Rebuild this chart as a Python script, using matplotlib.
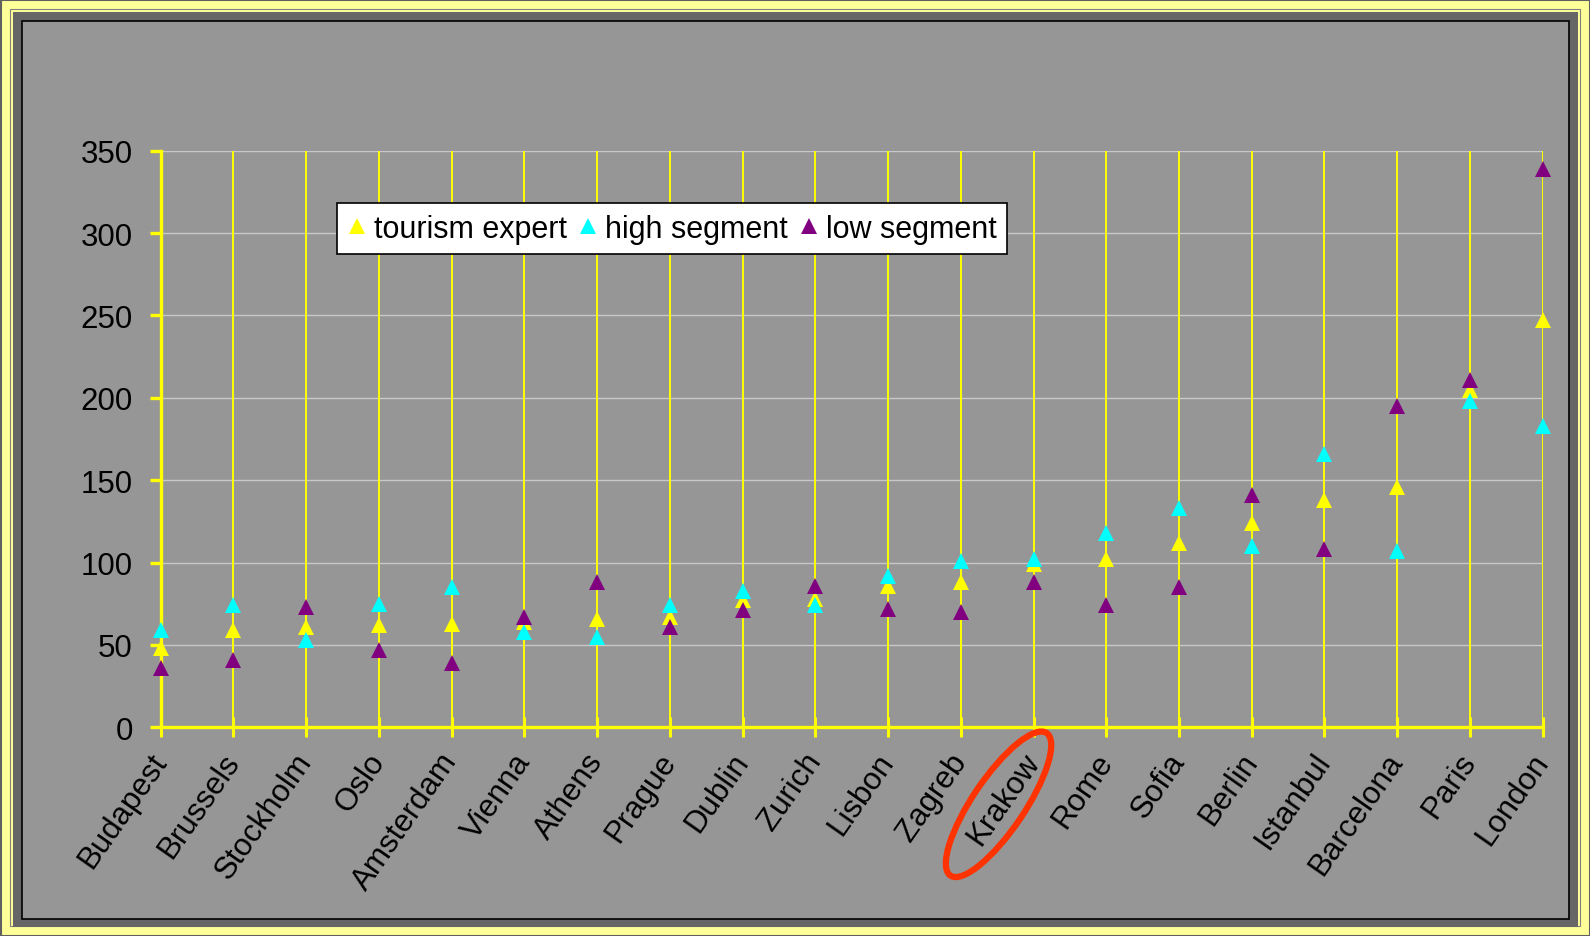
import numpy as np
import matplotlib
matplotlib.use("Agg")
import matplotlib.pyplot as plt
from matplotlib.patches import Rectangle, Ellipse
from matplotlib.transforms import IdentityTransform

plt.rcParams['font.family'] = ['Liberation Sans', 'DejaVu Sans']

# data
cities = ['Budapest', 'Brussels', 'Stockholm', 'Oslo', 'Amsterdam', 'Vienna',
          'Athens', 'Prague', 'Dublin', 'Zurich', 'Lisbon', 'Zagreb', 'Krakow',
          'Rome', 'Sofia', 'Berlin', 'Istanbul', 'Barcelona', 'Paris', 'London']
tourism_expert = [48, 59, 61, 62, 63, 64, 66, 67, 77, 78, 86, 88, 99, 102,
                  112, 124, 138, 146, 205, 247]
high_segment = [59, 74, 53, 75, 85, 58, 55, 74, 83, 74, 92, 101, 102, 118,
                133, 110, 166, 107, 198, 183]
low_segment = [36, 41, 73, 47, 39, 67, 88, 61, 71, 86, 72, 70, 88, 74,
               85, 141, 108, 195, 211, 339]
yticks = [0, 50, 100, 150, 200, 250, 300, 350]

W, H = 1590, 937
fig = plt.figure(figsize=(W / 100, H / 100), dpi=100, facecolor='#FFFF99')

# frame around the chart (pixel coords, y from the bottom), kept under the axes
def px_rect(x0, y0, x1, y1, **kw):
    fig.patches.append(Rectangle((x0, H - y1), x1 - x0, y1 - y0,
                                 transform=IdentityTransform(), zorder=-5, **kw))

px_rect(0.5, 0.5, W - 0.5, H - 0.5, facecolor='none', edgecolor='#606060', lw=1.5)
px_rect(10, 10, W - 10, H - 10, facecolor='none', edgecolor='#808080', lw=0.8)
px_rect(13, 13, W - 12, H - 9, facecolor='#666666', edgecolor='none')
px_rect(22, 22, W - 21, H - 17, facecolor='#969696', edgecolor='black', lw=1.2)

ax = fig.add_axes([160.7 / W, 1 - 728.3 / H, (1542.7 - 160.7) / W, (728.3 - 151.7) / H])
ax.patch.set_alpha(0)

x = np.arange(len(cities))
ax.set_xlim(0, len(cities) - 1)
ax.set_ylim(0, 350)

# grid: grey horizontals, yellow verticals
for v in yticks[1:]:
    ax.axhline(v, color='#C8C8C8', lw=1.0, zorder=1)
for xi in x:
    ax.axvline(xi, color='#FFFF00', lw=1.4, zorder=1)

ms = 12
ax.plot(x, tourism_expert, '^', color='#FFFF00', ms=ms, mew=0, label='tourism expert',
        zorder=3, clip_on=False)
ax.plot(x, high_segment, '^', color='#00FFFF', ms=ms, mew=0, label='high segment',
        zorder=4, clip_on=False)
ax.plot(x, low_segment, '^', color='#800080', ms=ms, mew=0, label='low segment',
        zorder=5, clip_on=False)

for s in ['top', 'right']:
    ax.spines[s].set_visible(False)
for s in ['left', 'bottom']:
    ax.spines[s].set_color('#FFFF00')
    ax.spines[s].set_linewidth(2.4)
    ax.spines[s].set_zorder(2)

ax.set_yticks(yticks)
ax.set_yticklabels([str(v) for v in yticks], fontsize=22.5)
ax.tick_params(axis='y', direction='out', length=8, width=2.4, color='#FFFF00', pad=12)
ax.set_xticks(x)
ax.set_xticklabels(cities, fontsize=22.5, rotation=55, ha='right', va='center',
                   rotation_mode='anchor')
ax.tick_params(axis='x', direction='inout', length=15, width=2.2, color='#FFFF00', pad=13)

leg = ax.legend(loc='upper left', bbox_to_anchor=(337 / W, 1 - 204 / H),
                bbox_transform=fig.transFigure, ncol=3, fontsize=22, frameon=True,
                fancybox=False, framealpha=1, edgecolor='black', handlelength=0.6,
                handletextpad=0.25, columnspacing=0.4, borderpad=0.35, borderaxespad=0)
leg.get_frame().set_linewidth(1.2)
leg.set_zorder(10)

# red ellipse around the Krakow label
fig.canvas.draw()
kx, ky = ax.transData.transform((cities.index('Krakow'), 0))
ring = Ellipse((kx - 35, ky - 77), width=172, height=52, angle=56,
               facecolor='none', edgecolor='#FF3300', lw=4.5,
               transform=IdentityTransform(), zorder=20)
fig.patches.append(ring)

fig.savefig('out.png', dpi=100, facecolor=fig.get_facecolor())
